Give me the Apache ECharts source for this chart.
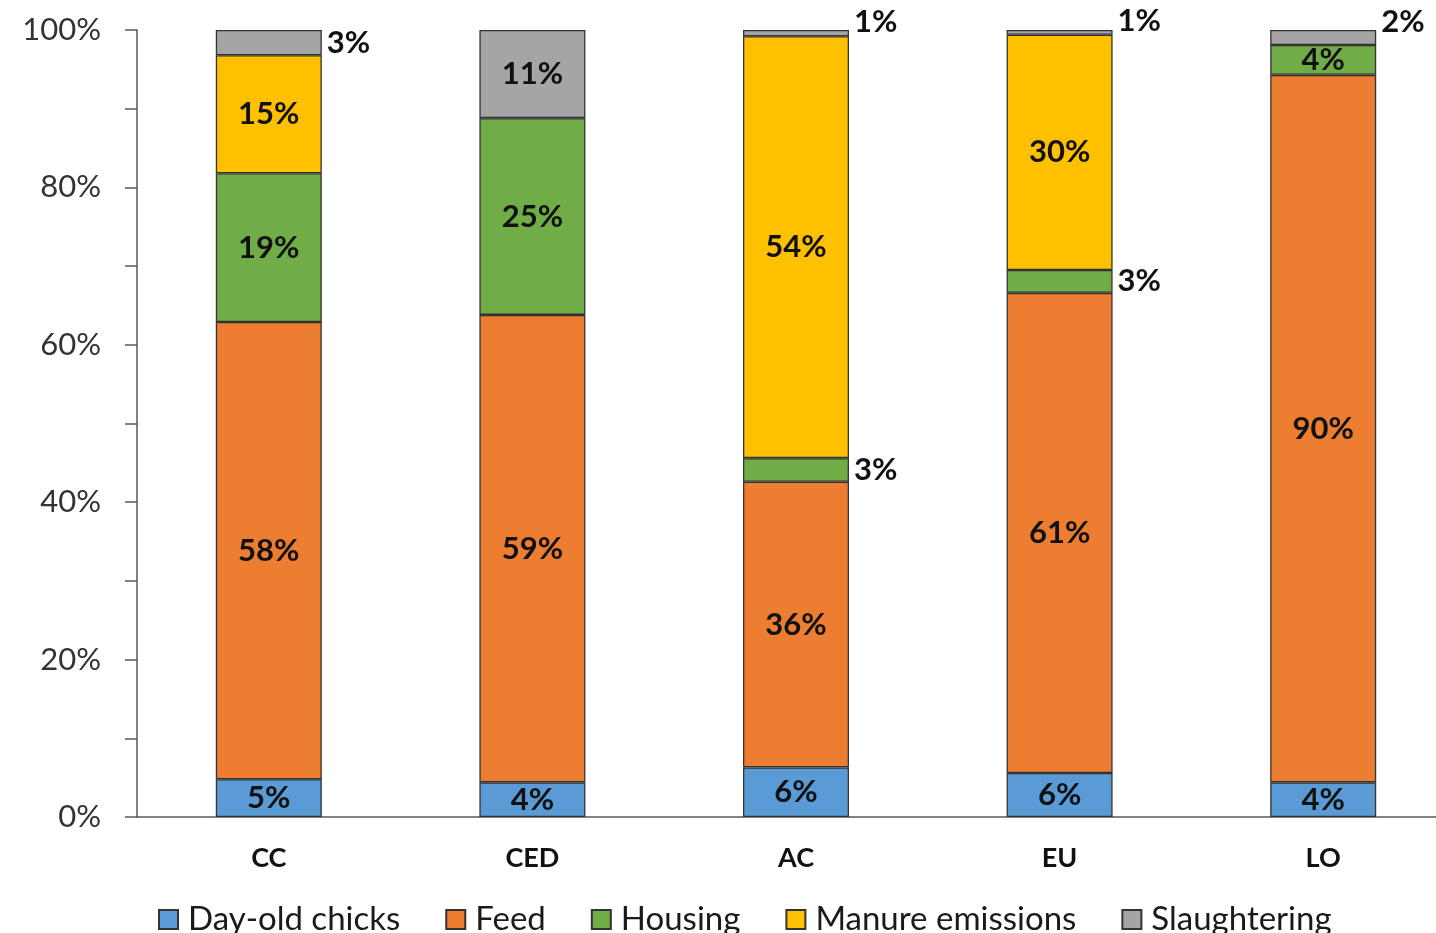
<!DOCTYPE html>
<html>
<head>
<meta charset="utf-8">
<script src="https://cdn.jsdelivr.net/npm/echarts@6/dist/echarts.min.js"></script>
<style>
  html, body { margin: 0; padding: 0; background: #fff; }
  #chart { width: 1436px; height: 933px; }
</style>
</head>
<body>
<div id="chart"></div>
<script>
// Share of impacts per production system (percent of total)
const categories = ['CC', 'CED', 'AC', 'EU', 'LO'];
const dayOldChicks = [4.8, 4.4, 6.3, 5.6, 4.4];
const feed = [58.1, 59.4, 36.3, 61.0, 89.9];
const housing = [18.9, 25.0, 3.0, 2.9, 3.8];
const manureEmissions = [15.0, null, 53.6, 29.9, null];
const slaughtering = [3.2, 11.2, 0.8, 0.6, 1.9];
const yTicks = [0, 20, 40, 60, 80, 100];

const FONT = 'Lato';

function pct(v) { return Math.round(v) + '%'; }

// Small segments get their label beside the bar instead of inside it
function withLabels(values, sideSet, lifted) {
  return values.map(function (v, i) {
    if (v === null) return { value: null, label: { show: false } };
    const item = { value: v };
    if (sideSet.indexOf(i) >= 0) {
      item.label = { position: 'right', distance: 5 };
      if (lifted && lifted[i] !== undefined) item.label.offset = [0, lifted[i]];
    }
    return item;
  });
}

const palette = {
  'Day-old chicks': '#5B9BD5',
  'Feed': '#ED7D31',
  'Housing': '#70AD47',
  'Manure emissions': '#FFC000',
  'Slaughtering': '#A5A5A5'
};

function makeSeries(name, data) {
  return {
    name: name,
    type: 'bar',
    stack: 'total',
    barWidth: 106,
    data: data,
    itemStyle: { color: palette[name], borderColor: '#333', borderWidth: 1.3 },
    label: {
      show: true,
      position: 'inside',
      formatter: function (p) { return pct(p.value); },
      fontFamily: FONT,
      fontWeight: 'bold',
      fontSize: 31,
      color: '#111'
    },
    emphasis: { disabled: true }
  };
}

const chart = echarts.init(document.getElementById('chart'), null, { renderer: 'canvas' });

chart.setOption({
  animation: false,
  backgroundColor: '#fff',
  grid: {
    left: 137, top: 30, width: 1318, height: 787,
    containLabel: false,
    outerBoundsMode: 'none'
  },
  legend: {
    left: 153,
    top: 898,
    itemWidth: 19,
    itemHeight: 19,
    itemGap: 45,
    icon: 'rect',
    textStyle: { fontFamily: FONT, fontSize: 33, color: '#1a1a1a', padding: [0, 0, 0, 5] },
    data: ['Day-old chicks', 'Feed', 'Housing', 'Manure emissions', 'Slaughtering']
  },
  xAxis: {
    type: 'category',
    data: categories,
    axisLine: { lineStyle: { color: '#595959', width: 1.5 } },
    axisTick: { show: false },
    axisLabel: {
      margin: 28,
      fontFamily: FONT,
      fontWeight: 'bold',
      fontSize: 27,
      color: '#111'
    }
  },
  yAxis: {
    type: 'value',
    min: 0,
    max: 100,
    interval: 10,
    splitLine: { show: false },
    axisLine: { show: true, lineStyle: { color: '#595959', width: 1.5 } },
    axisTick: { show: true, length: 12, lineStyle: { color: '#595959', width: 1.5 } },
    axisLabel: {
      margin: 36,
      fontFamily: FONT,
      fontSize: 31,
      color: '#333',
      formatter: function (v) { return yTicks.indexOf(v) >= 0 ? v + '%' : ''; }
    }
  },
  series: [
    makeSeries('Day-old chicks', withLabels(dayOldChicks, [])),
    makeSeries('Feed', withLabels(feed, [])),
    makeSeries('Housing', withLabels(housing, [2, 3])),
    makeSeries('Manure emissions', withLabels(manureEmissions, [])),
    makeSeries('Slaughtering', withLabels(slaughtering, [0, 2, 3, 4], { 2: -11, 3: -11, 4: -15 }))
  ]
});
</script>
</body>
</html>
